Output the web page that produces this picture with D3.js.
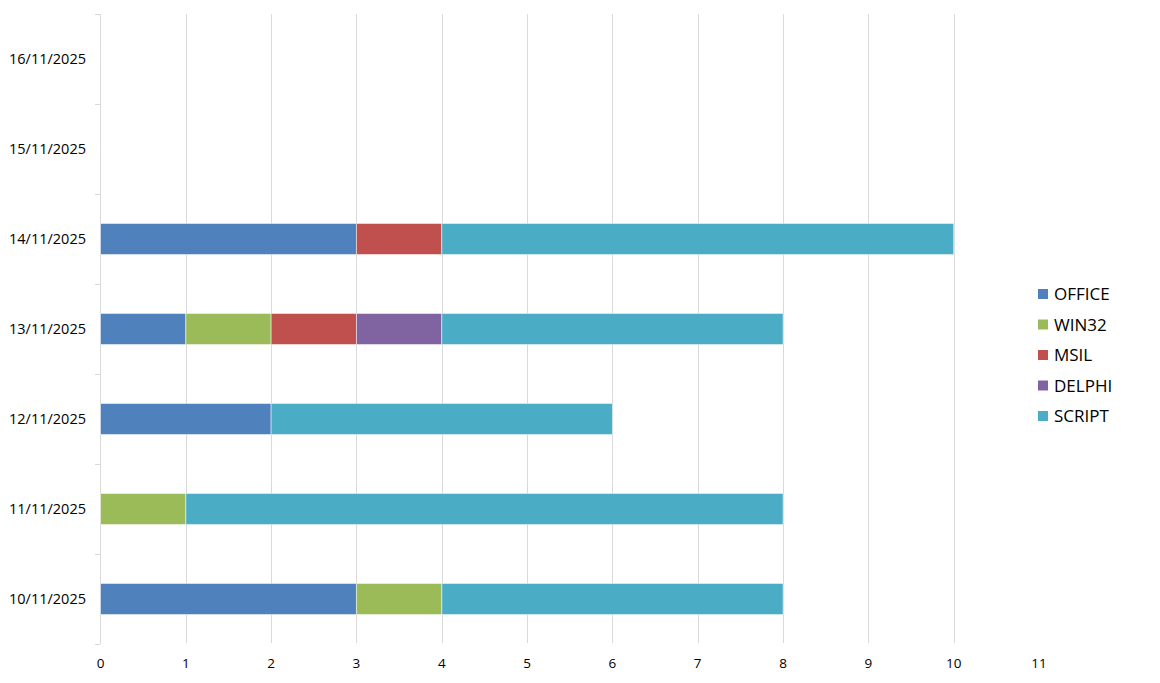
<!DOCTYPE html>
<html>
<head>
    <title>stacked</title>
    <script src="https://d3js.org/d3.v7.min.js"></script>
</head>
<style>
    body { margin: 0; background: #fff; overflow: hidden; }
    svg text { font-family: "Open Sans", "Liberation Sans", sans-serif; fill: #000; }
</style>
<body>
    <svg></svg>
    <script>
        const dates = ["10/11/2025", "11/11/2025", "12/11/2025", "13/11/2025", "14/11/2025", "15/11/2025", "16/11/2025"];
        const seriesNames = ["OFFICE", "WIN32", "MSIL", "DELPHI", "SCRIPT"];
        const seriesColors = ["#4f81bd", "#9bbb59", "#c0504d", "#8064a2", "#4bacc6"];
        const office = [3, 0, 2, 1, 3, 0, 0];
        const win32 = [1, 1, 0, 1, 0, 0, 0];
        const msil = [0, 0, 0, 1, 1, 0, 0];
        const delphi = [0, 0, 0, 1, 0, 0, 0];
        const script = [4, 7, 4, 4, 6, 0, 0];
        const xTicks = [0, 1, 2, 3, 4, 5, 6, 7, 8, 9, 10, 11];

        const width = 1160, height = 683;
        const svg = d3.select("svg").attr("width", width).attr("height", height);

        const rows = dates.map((d, i) => ({
            date: d, OFFICE: office[i], WIN32: win32[i], MSIL: msil[i], DELPHI: delphi[i], SCRIPT: script[i]
        }));
        const stacked = d3.stack().keys(seriesNames)(rows);

        const x = d3.scaleLinear().domain([0, 11]).range([100.5, 1039]);
        const y = d3.scaleBand().domain(dates).range([644, 14]).paddingInner(0.655).paddingOuter(0.3275);
        const color = d3.scaleOrdinal().domain(seriesNames).range(seriesColors);

        // gridlines (1..10)
        svg.append("g").selectAll("line")
            .data(xTicks.filter(t => t > 0 && t < 11))
            .join("line")
            .attr("x1", d => Math.round(x(d)) + 0.5).attr("x2", d => Math.round(x(d)) + 0.5)
            .attr("y1", 14).attr("y2", 643)
            .attr("stroke", "#d9d9d9").attr("stroke-width", 1);

        // left axis line + ticks
        const band = (644 - 14) / dates.length;
        svg.append("line")
            .attr("x1", 100.5).attr("x2", 100.5).attr("y1", 14).attr("y2", 644)
            .attr("stroke", "#d9d9d9");
        svg.append("g").selectAll("line")
            .data(d3.range(dates.length + 1))
            .join("line")
            .attr("x1", 95).attr("x2", 100)
            .attr("y1", d => 14.5 + d * band).attr("y2", d => 14.5 + d * band)
            .attr("stroke", "#d9d9d9");

        // bars
        svg.append("g").selectAll("g")
            .data(stacked)
            .join("g")
            .attr("fill", d => color(d.key))
            .selectAll("rect")
            .data(d => d.filter(s => s[1] - s[0] > 0))
            .join("rect")
            .attr("x", d => x(d[0]))
            .attr("width", d => x(d[1]) - x(d[0]))
            .attr("y", d => y(d.data.date))
            .attr("height", y.bandwidth())
            .attr("stroke", "rgba(255,255,255,0.5)")
            .attr("stroke-width", 1);

        // y labels
        svg.append("g").selectAll("text")
            .data(dates)
            .join("text")
            .attr("x", 86).attr("y", d => y(d) + y.bandwidth() / 2 + 1.5)
            .attr("text-anchor", "end").attr("dominant-baseline", "middle")
            .style("font-size", "14.5px")
            .text(d => d);

        // x labels
        svg.append("g").selectAll("text")
            .data(xTicks)
            .join("text")
            .attr("x", d => x(d)).attr("y", 664)
            .attr("text-anchor", "middle").attr("dominant-baseline", "middle")
            .style("font-size", "13.5px")
            .text(d => d);

        // legend
        const legend = svg.append("g").selectAll("g")
            .data(seriesNames)
            .join("g")
            .attr("transform", (d, i) => `translate(1038, ${294 + i * 30.5})`);
        legend.append("rect")
            .attr("x", 0).attr("y", -5).attr("width", 10).attr("height", 10)
            .attr("fill", d => color(d));
        legend.append("text")
            .attr("x", 16).attr("y", 1.5)
            .attr("dominant-baseline", "middle")
            .style("font-size", "17px")
            .text(d => d);
    </script>
</body>
</html>
